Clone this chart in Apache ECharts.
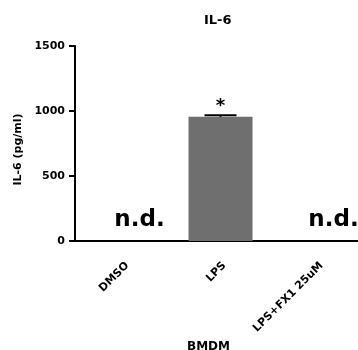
<!DOCTYPE html>
<html>
<head>
<meta charset="utf-8">
<script src="https://cdn.jsdelivr.net/npm/echarts@6/dist/echarts.min.js"></script>
<style>
  html, body { margin: 0; padding: 0; background: #fff; }
  #chart { width: 358px; height: 350px; }
</style>
</head>
<body>
<div id="chart"></div>
<script>
// data
const categories = ["DMSO", "LPS", "LPS+FX1 25uM"];
const means = [0, 955, 0];
const errors = [0, 12, 0];
const notDetected = [true, false, true];
const stars = ["", "*", ""];
const yTicks = [0, 500, 1000, 1500];

const font = '"DejaVu Sans", Verdana, sans-serif';

const barData = means.map((v, i) => {
  if (notDetected[i]) {
    return {
      value: v,
      label: {
        show: true,
        position: "top",
        formatter: "n.d.",
        fontSize: 23,
        fontWeight: "bold",
        color: "#000",
        fontFamily: font,
        offset: [16, 0],
        distance: 9,
      },
    };
  }
  return {
    value: v,
    label: {
      show: true,
      position: "top",
      formatter: stars[i],
      fontSize: 18,
      fontWeight: "bold",
      color: "#000",
      fontFamily: font,
      distance: 2,
    },
  };
});

const option = {
  animation: false,
  textStyle: { fontFamily: font },
  title: {
    text: "IL-6",
    left: 199,
    top: 9,
    textStyle: { fontSize: 13, fontWeight: "bold", color: "#000", fontFamily: font },
  },
  grid: {
    left: 75,
    top: 46,
    width: 291,
    bottom: 109,
    containLabel: false,
    outerBoundsMode: "none",
  },
  xAxis: {
    type: "category",
    data: categories,
    name: "BMDM",
    nameLocation: "middle",
    nameGap: 96,
    nameTextStyle: {
      fontSize: 12,
      fontWeight: "bold",
      color: "#000",
      padding: [0, 24, 0, 0],
    },
    axisLine: { lineStyle: { color: "#000", width: 2 } },
    axisTick: { alignWithLabel: true, length: 6, lineStyle: { width: 2 } },
    axisLabel: {
      rotate: 45,
      interval: 0,
      margin: 19,
      verticalAlign: "top",
      fontSize: 11,
      fontWeight: "bold",
      color: "#000",
    },
  },
  yAxis: {
    type: "value",
    min: yTicks[0],
    max: yTicks[yTicks.length - 1],
    interval: yTicks[1] - yTicks[0],
    name: "IL-6 (pg/ml)",
    nameLocation: "middle",
    nameGap: 46,
    nameTextStyle: {
      fontSize: 11,
      fontWeight: "bold",
      color: "#000",
      padding: [0, 12, 0, 0],
    },
    splitLine: { show: false },
    axisLine: { show: true, lineStyle: { color: "#000", width: 2 } },
    axisTick: { show: true, length: 6, lineStyle: { width: 2 } },
    axisLabel: {
      fontSize: 11,
      fontWeight: "bold",
      color: "#000",
      margin: 10,
      formatter: (v) => String(v),
    },
  },
  series: [
    {
      type: "bar",
      data: barData,
      barWidth: 64,
      itemStyle: { color: "#6f6f6f" },
      z: 2,
    },
    {
      // error bar (upper cap only, like the original)
      type: "custom",
      z: 3,
      data: means.map((m, i) => [i, m, m + errors[i]]),
      renderItem: function (params, api) {
        const i = api.value(0);
        if (notDetected[i]) return;
        const base = api.coord([i, api.value(1)]);
        const top = api.coord([i, api.value(2)]);
        const half = 16;
        return {
          type: "group",
          children: [
            {
              type: "line",
              shape: { x1: base[0], y1: base[1], x2: top[0], y2: top[1] },
              style: { stroke: "#000", lineWidth: 2 },
            },
            {
              type: "line",
              shape: { x1: top[0] - half, y1: top[1], x2: top[0] + half, y2: top[1] },
              style: { stroke: "#000", lineWidth: 2 },
            },
          ],
        };
      },
    },
  ],
};

echarts.init(document.getElementById("chart")).setOption(option);
</script>
</body>
</html>
